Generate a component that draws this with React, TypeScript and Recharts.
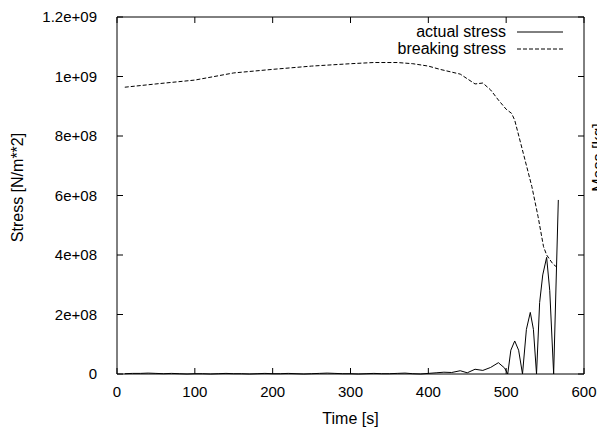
import { LineChart, Line, XAxis, YAxis } from "recharts";

const FONT = "'Liberation Sans', Arial, Helvetica, sans-serif";

// actual stress in the rope [s] -> [N/m^2]
const actualTimes = [
  10, 20, 30, 40, 50, 60, 70, 80, 90, 100, 110, 120, 130, 140, 150, 160, 170, 180, 190, 200,
  210, 220, 230, 240, 250, 260, 270, 280, 290, 300, 310, 320, 330, 340, 350, 360, 370, 380, 390, 400,
  410, 420, 430, 441, 450, 460, 470, 480, 490, 498, 502,
  506, 511, 516, 521, 526, 531, 535, 539, 543, 547, 552, 556, 561, 567,
];
const actualStress = [
  1e6, 2e6, 2e6, 3e6, 2e6, 1e6, 2e6, 1e6, 0, 1e6, 1e6, 0, 1e6, 2e6, 1e6, 1e6, 0, 1e6, 2e6, 1e6,
  1e6, 2e6, 1e6, 0, 1e6, 2e6, 3e6, 2e6, 1e6, 1e6, 0, 1e6, 2e6, 1e6, 1e6, 2e6, 3e6, 1e6, 0, 2e6,
  4e6, 6e6, 5e6, 11e6, 4e6, 16e6, 12e6, 22e6, 38e6, 20e6, 0,
  80e6, 111e6, 80e6, 0, 150e6, 207e6, 150e6, 0, 240e6, 333e6, 392e6, 280e6, 0, 585e6,
];

// breaking stress of the rope
const breakingTimes = [
  10, 50, 100, 150, 200, 250, 300, 330, 360, 380, 400, 415, 441, 460, 470, 480, 490, 500,
  507, 511, 522, 533, 541, 548, 552, 560, 567,
];
const breakingStress = [
  0.964e9, 0.975e9, 0.988e9, 1.012e9, 1.024e9, 1.035e9, 1.043e9, 1.047e9, 1.047e9, 1.043e9,
  1.035e9, 1.024e9, 1.008e9, 0.975e9, 0.978e9, 0.955e9, 0.921e9, 0.89e9,
  0.876e9, 0.853e9, 0.742e9, 0.63e9, 0.529e9, 0.428e9, 0.4e9, 0.37e9, 0.355e9,
];

const xTicks = [0, 100, 200, 300, 400, 500, 600];
const yTicks = [0, 2e8, 4e8, 6e8, 8e8, 1e9, 1.2e9];
const yTickLabels = ["0", "2e+08", "4e+08", "6e+08", "8e+08", "1e+09", "1.2e+09"];

const seriesNames = ["actual stress", "breaking stress"];

const actualData = actualTimes.map((t, i) => ({ t, v: actualStress[i] }));
const breakingData = breakingTimes.map((t, i) => ({ t, v: breakingStress[i] }));

const tickStyle = { fill: "#000", fontSize: 15, fontFamily: FONT };
const noLabel = () => "";

function StressLegend() {
  const rows = [
    { name: seriesNames[0], dash: undefined },
    { name: seriesNames[1], dash: "4 2" },
  ];
  return (
    <div style={{ position: "absolute", left: 380, top: 23, width: 190, fontFamily: FONT, fontSize: 16, color: "#000" }}>
      {rows.map((r) => (
        <div key={r.name} style={{ display: "flex", justifyContent: "flex-end", alignItems: "center", height: 17.5 }}>
          <span style={{ whiteSpace: "nowrap" }}>{r.name}</span>
          <svg width={46} height={6} style={{ marginLeft: 11, marginRight: 7 }}>
            <line x1={0} y1={3} x2={46} y2={3} stroke="#000" strokeWidth={1} strokeDasharray={r.dash} />
          </svg>
        </div>
      ))}
    </div>
  );
}

export default function App() {
  return (
    <div style={{ position: "absolute", left: 0, top: 0, width: 597, height: 430, background: "#fff" }}>
      <LineChart width={597} height={430} margin={{ top: 0, right: 0, bottom: 0, left: 0 }}>
        <XAxis
          dataKey="t"
          type="number"
          domain={[0, 600]}
          ticks={xTicks}
          height={56}
          stroke="#000"
          tickSize={-6}
          tickMargin={18}
          tick={tickStyle}
          label={{ value: "Time [s]", position: "insideBottom", offset: 6, fill: "#000", fontSize: 16, fontFamily: FONT }}
        />
        {/* mirrored frame: top and right axes share the scales, ticks only */}
        <XAxis
          xAxisId="top"
          dataKey="t"
          orientation="top"
          type="number"
          domain={[0, 600]}
          ticks={xTicks}
          height={17}
          stroke="#000"
          tickSize={-6}
          tick={tickStyle}
          tickFormatter={noLabel}
        />
        <YAxis
          type="number"
          domain={[0, 1.2e9]}
          ticks={yTicks}
          width={117}
          stroke="#000"
          tickSize={-6}
          tickMargin={26}
          tick={tickStyle}
          tickFormatter={(v: number) => yTickLabels[yTicks.indexOf(v)] ?? String(v)}
          label={{ value: "Stress [N/m**2]", angle: -90, position: "center", dx: -41, dy: -8, fill: "#000", fontSize: 16, fontFamily: FONT }}
        />
        <YAxis
          yAxisId="right"
          orientation="right"
          type="number"
          domain={[0, 1.2e9]}
          ticks={yTicks}
          width={13}
          stroke="#000"
          tickSize={-6}
          tick={tickStyle}
          tickFormatter={noLabel}
          label={{ value: "Mass [kg]", angle: -90, position: "center", dx: 8, dy: -38, fill: "#000", fontSize: 16, fontFamily: FONT }}
        />
        <Line
          data={actualData}
          dataKey="v"
          yAxisId="right"
          name={seriesNames[0]}
          type="linear"
          stroke="#000"
          strokeWidth={1}
          dot={false}
          isAnimationActive={false}
        />
        <Line
          data={breakingData}
          dataKey="v"
          xAxisId="top"
          name={seriesNames[1]}
          type="linear"
          stroke="#000"
          strokeWidth={1}
          strokeDasharray="4 2"
          dot={false}
          isAnimationActive={false}
        />
      </LineChart>
      <StressLegend />
    </div>
  );
}
